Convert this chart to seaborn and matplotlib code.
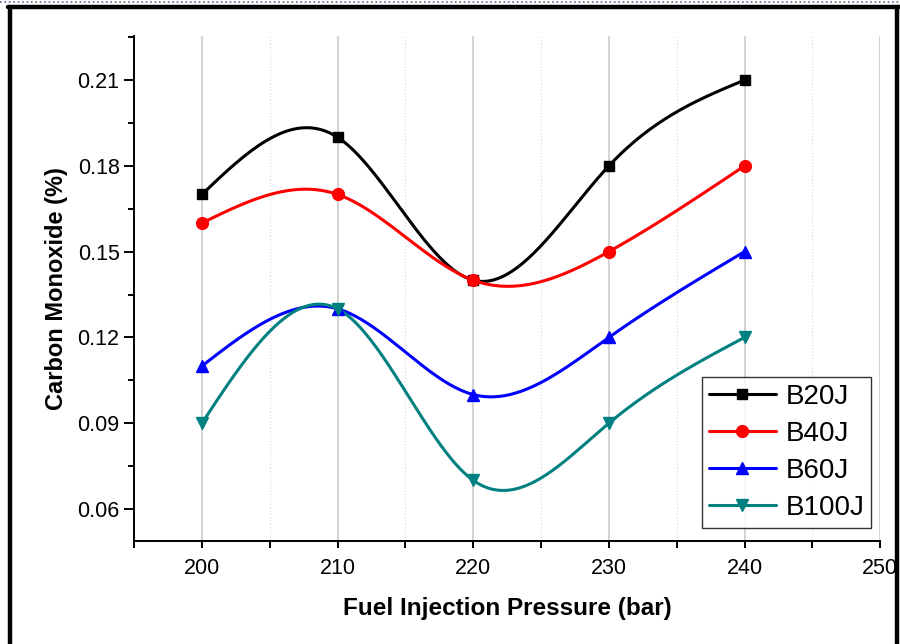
import numpy as np
import pandas as pd
import seaborn as sns
from matplotlib import pyplot as plt
from matplotlib.lines import Line2D
from matplotlib.ticker import MultipleLocator

pressure = [200, 210, 220, 230, 240]
b20j = [0.17, 0.19, 0.14, 0.18, 0.21]
b40j = [0.16, 0.17, 0.14, 0.15, 0.18]
b60j = [0.11, 0.13, 0.10, 0.12, 0.15]
b100j = [0.09, 0.13, 0.07, 0.09, 0.12]
labels = ['B20J', 'B40J', 'B60J', 'B100J']


def smooth(x, y, n=300):
    # natural cubic spline through the measured points (line rendering only)
    x = np.asarray(x, float)
    y = np.asarray(y, float)
    k = len(x)
    h = np.diff(x)
    A = np.zeros((k, k))
    r = np.zeros(k)
    A[0, 0] = A[-1, -1] = 1
    for i in range(1, k - 1):
        A[i, i - 1] = h[i - 1]
        A[i, i] = 2 * (h[i - 1] + h[i])
        A[i, i + 1] = h[i]
        r[i] = 6 * ((y[i + 1] - y[i]) / h[i] - (y[i] - y[i - 1]) / h[i - 1])
    M = np.linalg.solve(A, r)
    xs = np.linspace(x[0], x[-1], n)
    idx = np.clip(np.searchsorted(x, xs) - 1, 0, k - 2)
    x0, x1 = x[idx], x[idx + 1]
    hh = x1 - x0
    a = (x1 - xs) / hh
    b = (xs - x0) / hh
    ys = a * y[idx] + b * y[idx + 1] + ((a**3 - a) * M[idx] + (b**3 - b) * M[idx + 1]) * hh**2 / 6
    return xs, ys


sns.set_style('ticks')
plt.rcParams['font.family'] = ['Liberation Sans', 'DejaVu Sans']
plt.rcParams['text.color'] = 'black'
plt.rcParams['axes.labelcolor'] = 'black'
plt.rcParams['xtick.color'] = 'black'
plt.rcParams['ytick.color'] = 'black'

fig = plt.figure(figsize=(9, 6.44), dpi=100)
ax = fig.add_axes([0.149, 0.160, 0.829, 0.784])

series = [b20j, b40j, b60j, b100j]
colors = ['#000000', '#ff0000', '#0000ff', '#008080']
markers = ['s', 'o', '^', 'v']
msizes = [7.5, 8.5, 8.5, 8.5]

handles = []
for vals, lab, c, m, ms in zip(series, labels, colors, markers, msizes):
    xs, ys = smooth(pressure, vals)
    df = pd.DataFrame({'x': xs, 'y': ys})
    sns.lineplot(data=df, x='x', y='y', color=c, lw=2.2, ax=ax, zorder=3)
    ax.plot(pressure, vals, ls='none', marker=m, ms=ms, color=c, zorder=4)
    handles.append(Line2D([], [], color=c, lw=2.2, marker=m, ms=ms))

ax.set_xlim(195, 250)
ax.set_ylim(0.0488, 0.2254)
ax.xaxis.set_major_locator(MultipleLocator(10))
ax.xaxis.set_minor_locator(MultipleLocator(5))
ax.yaxis.set_minor_locator(MultipleLocator(0.015))
ax.set_yticks([0.06, 0.09, 0.12, 0.15, 0.18, 0.21])
ax.set_yticklabels(['0.06', '0.09', '0.12', '0.15', '0.18', '0.21'])

ax.grid(axis='x', which='major', color='#cccccc', lw=1.2, ls='-')
ax.grid(axis='x', which='minor', color='#dddddd', lw=0.9, ls=':')
ax.set_axisbelow(True)

for s in ['top', 'right']:
    ax.spines[s].set_visible(False)
for s in ['left', 'bottom']:
    ax.spines[s].set_linewidth(1.4)
    ax.spines[s].set_color('black')

ax.tick_params(axis='both', which='major', labelsize=15.5, width=1.4, direction='out')
ax.tick_params(axis='x', which='both', length=5, width=1.4, pad=7)
ax.tick_params(axis='y', which='major', length=7)
ax.tick_params(axis='y', which='minor', length=4, width=1.4)

ax.set_xlabel('Fuel Injection Pressure (bar)', fontsize=17.5, fontweight='bold', labelpad=13)
ax.set_ylabel('Carbon Monoxide (%)', fontsize=17, fontweight='bold', labelpad=7)

leg = ax.legend(handles, labels, loc='lower right', bbox_to_anchor=(0.988, 0.026),
                fontsize=20, frameon=True, fancybox=False, handlelength=2.4,
                handletextpad=0.35, borderpad=0.25, labelspacing=0.4, borderaxespad=0)
leg.get_frame().set_edgecolor('black')
leg.get_frame().set_linewidth(1.0)

# outer frame of the figure
fig.add_artist(Line2D([0.011, 0.011], [0, 0.989], color='black', lw=3.2, transform=fig.transFigure))
fig.add_artist(Line2D([0.009, 1], [0.989, 0.989], color='black', lw=3.2, transform=fig.transFigure))
fig.add_artist(Line2D([0.997, 0.997], [0, 0.989], color='black', lw=3.2, transform=fig.transFigure))
fig.add_artist(Line2D([0, 1], [0.997, 0.997], color='#5a6a8a', lw=1.2, ls=':', transform=fig.transFigure))

fig.savefig('out.png', dpi=100)
